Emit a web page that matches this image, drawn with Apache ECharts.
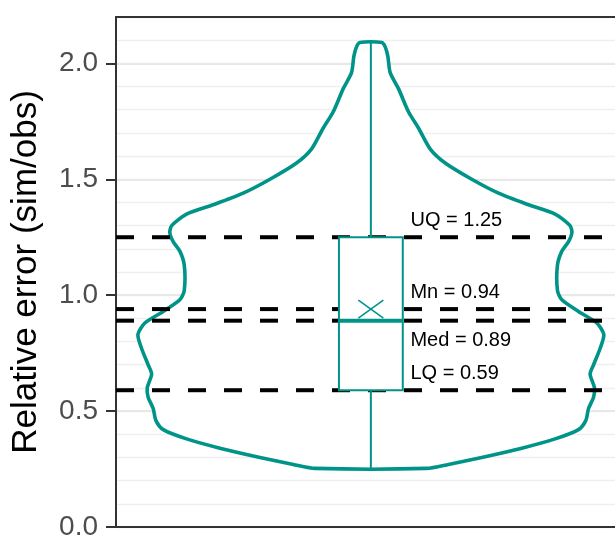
<!DOCTYPE html>
<html><head><meta charset="utf-8">
<script src="https://cdn.jsdelivr.net/npm/echarts@6/dist/echarts.min.js"></script>
<style>html,body{margin:0;padding:0;background:#fff}#c{width:615px;height:541px}</style>
</head><body><div id="c"></div>
<script>
// ---- data ----
const yTicks = [0, 0.5, 1.0, 1.5, 2.0];
// violin outline: relative error value and relative half-width (density, max = 1)
const violinY = [2.09, 2.07, 2.03, 1.96, 1.89, 1.79, 1.72, 1.63, 1.57, 1.50, 1.44, 1.39, 1.35, 1.30, 1.27, 1.23, 1.19, 1.13, 1.02, 0.98, 0.93, 0.88, 0.83, 0.77, 0.70, 0.66, 0.60, 0.56, 0.51, 0.46, 0.42, 0.38, 0.34, 0.30, 0.27, 0.253];
const violinHalfWidth = [0.047, 0.062, 0.073, 0.083, 0.119, 0.162, 0.205, 0.255, 0.319, 0.433, 0.548, 0.677, 0.791, 0.855, 0.863, 0.848, 0.820, 0.801, 0.801, 0.820, 0.891, 0.970, 1.000, 0.984, 0.956, 0.941, 0.960, 0.956, 0.934, 0.923, 0.891, 0.791, 0.648, 0.476, 0.333, 0.240];
// box: whisker low, Q1, median, mean, Q3, whisker high
const boxStats = [0.253, 0.59, 0.89, 0.94, 1.25, 2.09];
const labelNames = ['UQ', 'Mn', 'Med', 'LQ'];
const labelValues = [1.25, 0.94, 0.89, 0.59];

// ---- style ----
const TEAL = '#009489';
const FONT = '"Liberation Sans", Arial, sans-serif';
const XMIN = -1.094, XMAX = 1.048;
const BOX_HW = 0.137;
const LABEL_X = 0.17;
const LABEL_DY = {UQ: -17, Mn: -17, Med: 20, LQ: -17};

const chart = echarts.init(document.getElementById('c'), null, {renderer: 'canvas'});

const hiddenAxisParts = {axisTick: {show: false}, axisLabel: {show: false}, splitLine: {show: false}};
const option = {
  animation: false,
  backgroundColor: '#fff',
  grid: {left: 116, right: 0, top: 17, bottom: 11, show: false, containLabel: false},
  xAxis: [
    Object.assign({type: 'value', min: XMIN, max: XMAX, position: 'bottom',
      axisLine: {show: true, onZero: false, lineStyle: {color: '#333', width: 2}}}, hiddenAxisParts),
    Object.assign({type: 'value', min: XMIN, max: XMAX, position: 'top',
      axisLine: {show: true, onZero: false, lineStyle: {color: '#333', width: 2}}}, hiddenAxisParts)
  ],
  yAxis: [
    {
      type: 'value', min: 0, max: 2.2, interval: 0.1, position: 'left',
      axisLine: {show: false}, axisTick: {show: false}, axisLabel: {show: false},
      splitLine: {show: true, lineStyle: {color: '#efefef', width: 1.3}}
    },
    {
      type: 'value', min: 0, max: 2.2, interval: 0.5, position: 'left',
      name: 'Relative error (sim/obs)', nameLocation: 'middle', nameGap: 72,
      nameTextStyle: {fontSize: 35, color: '#000', fontFamily: FONT},
      axisLine: {show: true, onZero: false, lineStyle: {color: '#333', width: 2}},
      axisTick: {show: true, length: 10, lineStyle: {color: '#333', width: 2}, customValues: yTicks},
      axisLabel: {show: true, fontSize: 28, color: '#4d4d4d', fontFamily: FONT, margin: 18,
        customValues: yTicks, formatter: v => Number(v).toFixed(1)},
      splitLine: {show: true, lineStyle: {color: '#e8e8e8', width: 2}}
    }
  ],
  series: [
    {
      type: 'custom', z: 2, data: [[0, 0]],
      renderItem: (params, api) => {
        const pts = [];
        for (let i = 0; i < violinY.length; i++) pts.push(api.coord([-violinHalfWidth[i], violinY[i]]));
        for (let i = violinY.length - 1; i >= 0; i--) pts.push(api.coord([violinHalfWidth[i], violinY[i]]));
        return {type: 'polygon', shape: {points: pts, smooth: 0.25},
          style: {fill: '#fff', stroke: TEAL, lineWidth: 3.6, lineJoin: 'round'}};
      }
    },
    {
      type: 'custom', z: 3, data: labelValues.map((v, i) => [0, v, i]),
      renderItem: (params, api) => {
        const v = api.value(1);
        const a = api.coord([XMIN, v]), b = api.coord([XMAX, v]);
        return {type: 'line', shape: {x1: a[0], y1: a[1], x2: b[0], y2: b[1]},
          style: {stroke: '#000', lineWidth: 4, lineDash: [18, 18], lineCap: 'butt'}};
      }
    },
    {
      type: 'custom', z: 4, data: [[0, 0]],
      renderItem: (params, api) => {
        const [lo, q1, med, mean, q3, hi] = boxStats;
        const c = (x, y) => api.coord([x, y]);
        const tl = c(-BOX_HW, q3), br = c(BOX_HW, q1);
        const wTop0 = c(0, q3), wTop1 = c(0, hi), wBot0 = c(0, lo), wBot1 = c(0, q1);
        const m0 = c(-BOX_HW, med), m1 = c(BOX_HW, med);
        const mc = c(0, mean);
        const ls = {stroke: TEAL, lineWidth: 2};
        return {type: 'group', children: [
          {type: 'line', shape: {x1: wTop0[0], y1: wTop0[1], x2: wTop1[0], y2: wTop1[1]}, style: ls},
          {type: 'line', shape: {x1: wBot0[0], y1: wBot0[1], x2: wBot1[0], y2: wBot1[1]}, style: ls},
          {type: 'rect', shape: {x: tl[0], y: tl[1], width: br[0] - tl[0], height: br[1] - tl[1]},
            style: {fill: '#fff', stroke: TEAL, lineWidth: 2}},
          {type: 'line', shape: {x1: m0[0], y1: m0[1], x2: m1[0], y2: m1[1]}, style: {stroke: TEAL, lineWidth: 4}},
          {type: 'line', shape: {x1: mc[0] - 12.5, y1: mc[1] - 9, x2: mc[0] + 12.5, y2: mc[1] + 9}, style: {stroke: TEAL, lineWidth: 1.6}},
          {type: 'line', shape: {x1: mc[0] - 12.5, y1: mc[1] + 9, x2: mc[0] + 12.5, y2: mc[1] - 9}, style: {stroke: TEAL, lineWidth: 1.6}}
        ]};
      }
    },
    {
      type: 'custom', z: 5, data: labelValues.map((v, i) => [LABEL_X, v, i]),
      renderItem: (params, api) => {
        const i = api.value(2);
        const name = labelNames[i];
        const p = api.coord([api.value(0), api.value(1)]);
        return {type: 'text', x: p[0], y: p[1] + LABEL_DY[name],
          style: {text: name + ' = ' + labelValues[i].toFixed(2), fill: '#000', fontSize: 20,
            fontFamily: FONT, align: 'left', verticalAlign: 'middle'}};
      }
    }
  ]
};
chart.setOption(option);
</script>
</body></html>
